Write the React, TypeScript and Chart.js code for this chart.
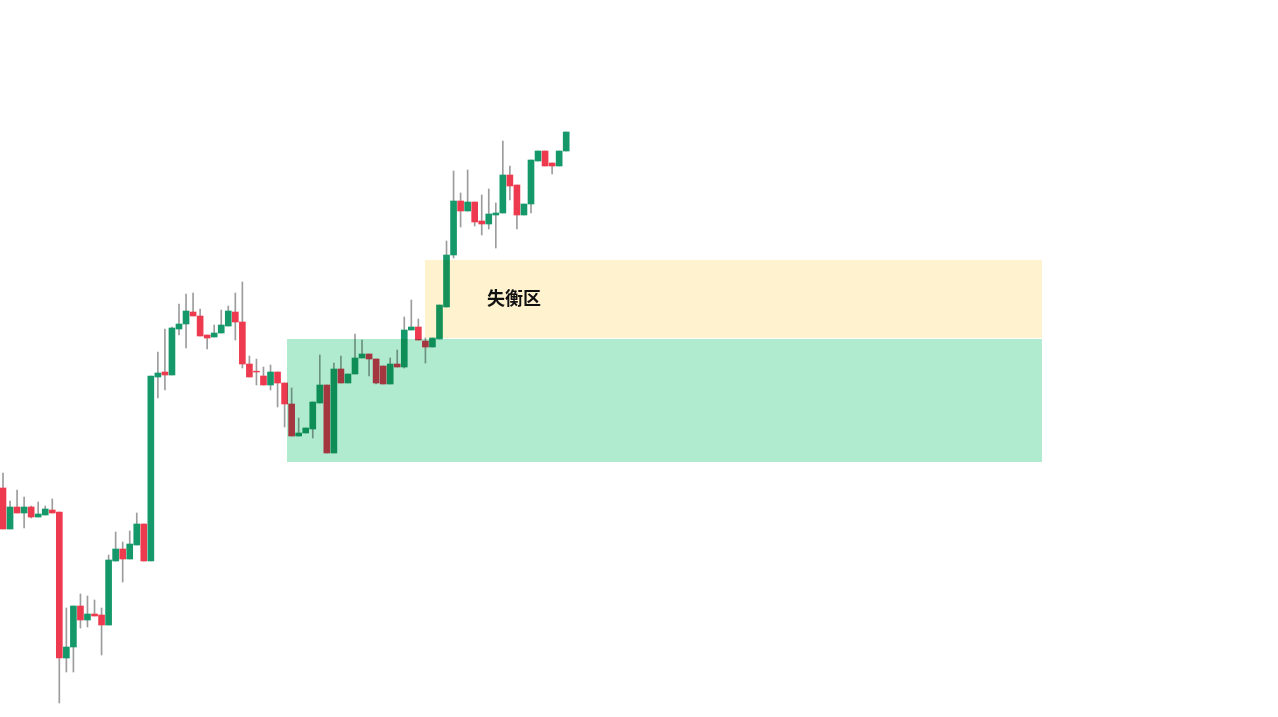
import React, { useEffect, useRef } from "react";
import { Chart, registerables } from "chart.js";

Chart.register(...registerables);

// Candle sequence (index 1..81), prices in points
const candleIndex: number[] = Array.from({ length: 81 }, (_, i) => i + 1);
const opens: number[] = [
  229, 188, 210, 204, 210, 200, 202, 207, 205, 59,
  70, 111, 97, 103, 102, 92, 156, 168, 158, 172,
  193, 156, 340, 345, 342, 388, 393, 405, 401, 382,
  380, 384, 391, 405, 395, 353, 345.8, 341, 332, 345,
  334, 313, 281, 284, 288, 314, 332, 264, 348, 334,
  343, 359, 363, 358, 351, 333, 353, 350, 387, 390,
  376, 370, 378, 410, 462, 516, 506, 515, 496, 493,
  502, 504, 542, 532, 502, 513, 556, 566, 554, 551,
  566,
];
const highs: number[] = [
  244, 216, 227, 220, 211, 215, 211, 218, 205, 109,
  111, 123, 121, 117, 109, 162, 185, 175, 186, 204,
  193, 341, 365, 388, 390, 413, 423, 424, 408, 382,
  392, 407, 411, 424, 435, 361, 358, 350, 352, 345,
  334, 329, 299, 289, 315, 362, 332, 354, 361, 343,
  383, 377, 363, 358, 351, 359, 367, 400, 417, 398,
  379, 379, 412, 476, 546, 524, 547, 515, 522, 528,
  514, 576, 551, 532, 513, 557, 566, 566, 554, 566,
  585,
];
const lows: number[] = [
  188, 188, 204, 189, 199, 200, 202, 204, 14, 45,
  45, 89, 90, 101, 62, 92, 156, 135, 158, 172,
  156, 156, 319, 327, 342, 382, 369, 401, 381, 368,
  380, 384, 391, 377, 349, 340, 332, 332, 327, 310,
  290, 281, 281, 284, 279, 314, 264, 264, 334, 334,
  343, 359, 341, 333, 333, 333, 350, 349, 387, 377,
  354, 370, 378, 410, 459, 490, 506, 491, 482, 488,
  469, 504, 517, 488, 502, 504, 556, 551, 543, 551,
  566,
];
const closes: number[] = [
  188, 210, 204, 210, 200, 203, 208, 204, 59, 70,
  111, 97, 103, 101, 92, 157, 168, 158, 173, 193,
  156, 341, 344, 342, 389, 393, 406, 401, 381, 379,
  384, 392, 406, 395, 353, 340, 345, 332, 345, 334,
  313, 281, 284, 289, 315, 332, 264, 348, 334, 343,
  359, 363, 358, 334, 333, 353, 350, 387, 390, 377,
  370, 379, 412, 462, 516, 506, 515, 495, 493, 503,
  504, 542, 531, 502, 513, 557, 566, 551, 551, 566,
  585,
];

// Highlighted price zones: [startIndex, endIndex, lowPrice, highPrice]
const zoneLabels: string[] = ["失衡区", ""];
const zoneStart: number[] = [60.94, 41.34];
const zoneEnd: number[] = [148.58, 148.58];
const zoneLow: number[] = [379, 255];
const zoneHigh: number[] = [457, 378];
const zoneFill: string[] = ["#fff2cf", "#b0ebd0"];
const labelIndex = 69.75;
const labelPrice = 419;

const UP = "#15996b";
const DOWN = "#ee3a4e";
const WICK = "rgba(90,90,90,0.6)";

const zonePlugin = {
  id: "zones",
  afterDatasetsDraw(chart: any) {
    const { ctx, scales } = chart;
    const xs = scales.x;
    const ys = scales.y;
    ctx.save();
    ctx.globalCompositeOperation = "multiply";
    for (let i = 0; i < zoneStart.length; i++) {
      const x0 = xs.getPixelForValue(zoneStart[i]);
      const x1 = xs.getPixelForValue(zoneEnd[i]);
      const y0 = ys.getPixelForValue(zoneHigh[i]);
      const y1 = ys.getPixelForValue(zoneLow[i]);
      ctx.fillStyle = zoneFill[i];
      ctx.fillRect(x0, y0, x1 - x0, y1 - y0);
    }
    ctx.restore();
    ctx.save();
    ctx.fillStyle = "#111";
    ctx.font = 'bold 18px "Noto Sans CJK SC", sans-serif';
    ctx.textBaseline = "middle";
    ctx.textAlign = "left";
    ctx.fillText(
      zoneLabels[0],
      xs.getPixelForValue(labelIndex),
      ys.getPixelForValue(labelPrice)
    );
    ctx.restore();
  },
};

export default function App() {
  const ref = useRef<HTMLCanvasElement | null>(null);

  useEffect(() => {
    if (!ref.current) return;
    const up = candleIndex.map((_, i) => closes[i] >= opens[i]);
    const chart = new Chart(ref.current, {
      type: "bar",
      data: {
        datasets: [
          {
            label: "body",
            data: candleIndex.map((x, i) => ({ x, y: [opens[i], closes[i]] })) as any,
            backgroundColor: up.map((u) => (u ? UP : DOWN)),
            borderWidth: 0,
            barThickness: 6,
            grouped: false,
          } as any,
          {
            label: "wick",
            data: candleIndex.map((x, i) => ({ x, y: [lows[i], highs[i]] })) as any,
            backgroundColor: WICK,
            borderWidth: 0,
            barThickness: 1,
            grouped: false,
          } as any,
        ],
      },
      options: {
        responsive: false,
        animation: false,
        layout: { padding: 0 },
        plugins: {
          legend: { display: false },
          tooltip: { enabled: false },
          title: { display: false },
        },
        scales: {
          x: {
            type: "linear",
            display: false,
            min: 0.5739,
            max: 182.108,
            offset: false,
          },
          y: { type: "linear", display: false, min: 0, max: 717 },
        },
      },
      plugins: [zonePlugin],
    });
    return () => chart.destroy();
  }, []);

  return (
    <div
      style={{
        position: "fixed",
        left: 0,
        top: 0,
        width: 1278,
        height: 717,
        background: "#ffffff",
      }}
    >
      <canvas ref={ref} width={1278} height={717} style={{ display: "block" }} />
    </div>
  );
}
